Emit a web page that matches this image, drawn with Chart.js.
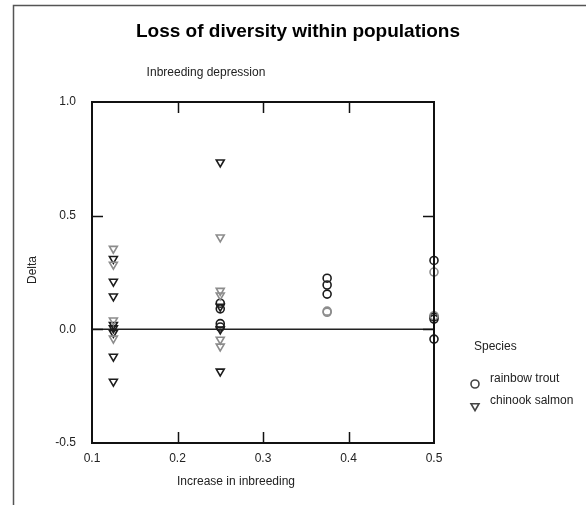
<!DOCTYPE html>
<html>
<head>
<meta charset="utf-8">
<script src="https://cdn.jsdelivr.net/npm/chart.js@4.4.1/dist/chart.umd.min.js"></script>
<style>
  html, body { margin: 0; padding: 0; background: #fff; }
  canvas { display: block; }
</style>
</head>
<body>
<canvas id="c" width="586" height="505"></canvas>
<script>
// Increase in inbreeding levels (x positions of each column of observations)
const increase = [0.125, 0.25, 0.375, 0.5];

// Delta values per inbreeding level; "Dark" and "Pale" are the two outline shades used per species
const chinookDark = [
  [0.31, 0.21, 0.145, 0.02, 0.005, -0.015, -0.12, -0.23],
  [0.735, 0.10, 0.0, -0.185],
  [],
  []
];
const chinookPale = [
  [0.355, 0.285, 0.04, -0.04],
  [0.405, 0.17, 0.15, -0.045, -0.075],
  [],
  []
];
const troutDark = [
  [],
  [0.115, 0.09, 0.025, 0.01],
  [0.225, 0.195, 0.155],
  [0.303, 0.055, 0.045, -0.043]
];
const troutPale = [
  [],
  [],
  [0.08, 0.075],
  [0.252, 0.06]
];

const xTicks = [0.1, 0.2, 0.3, 0.4, 0.5];
const yTicks = [-0.5, 0.0, 0.5, 1.0];
const speciesNames = ['rainbow trout', 'chinook salmon'];

const FONT = '"Liberation Sans", Arial, sans-serif';
const DARK = '#1c1c1c';
const PALE = '#8c8c8c';

function toPoints(groups) {
  const pts = [];
  groups.forEach((vals, i) => vals.forEach(v => pts.push({ x: increase[i], y: v })));
  return pts;
}

function series(label, groups, color, style) {
  const tri = style === 'triangle';
  return {
    label,
    data: toPoints(groups),
    pointStyle: style,
    pointRotation: tri ? 180 : 0,
    pointRadius: tri ? 4.6 : 4,
    pointHoverRadius: tri ? 4.6 : 4,
    pointBorderWidth: 1.6,
    borderColor: color,
    pointBorderColor: color,
    backgroundColor: 'rgba(0,0,0,0)',
    pointBackgroundColor: 'rgba(0,0,0,0)',
    showLine: false,
    clip: false
  };
}

// Frame, titles, box with inward ticks, zero line and species key
const decorations = {
  id: 'decorations',
  beforeDatasetsDraw(chart) {
    const { ctx, chartArea: a, scales: { x, y } } = chart;
    ctx.save();
    // zero reference line
    const y0 = y.getPixelForValue(0);
    ctx.strokeStyle = '#222';
    ctx.lineWidth = 1.5;
    ctx.beginPath();
    ctx.moveTo(a.left, y0);
    ctx.lineTo(a.right, y0);
    ctx.stroke();
    ctx.restore();
  },
  afterDraw(chart) {
    const { ctx, chartArea: a, scales: { x, y } } = chart;
    ctx.save();

    // outer frame (top and left edges)
    ctx.strokeStyle = '#555';
    ctx.lineWidth = 1.5;
    ctx.beginPath();
    ctx.moveTo(586, 5.5);
    ctx.lineTo(13.5, 5.5);
    ctx.lineTo(13.5, 505);
    ctx.stroke();

    // plot box
    ctx.strokeStyle = '#111';
    ctx.lineWidth = 2;
    ctx.strokeRect(a.left, a.top, a.right - a.left, a.bottom - a.top);

    // inward tick marks on all four sides
    ctx.lineWidth = 1.5;
    const tl = 11;
    ctx.beginPath();
    xTicks.forEach(v => {
      const px = Math.round(x.getPixelForValue(v)) + 0.5;
      if (px <= a.left + 1 || px >= a.right - 1) return;
      ctx.moveTo(px, a.bottom); ctx.lineTo(px, a.bottom - tl);
      ctx.moveTo(px, a.top); ctx.lineTo(px, a.top + tl);
    });
    yTicks.forEach(v => {
      const py = Math.round(y.getPixelForValue(v)) + 0.5;
      if (py <= a.top + 1 || py >= a.bottom - 1) return;
      ctx.moveTo(a.left, py); ctx.lineTo(a.left + tl, py);
      ctx.moveTo(a.right, py); ctx.lineTo(a.right - tl, py);
    });
    ctx.stroke();

    // titles
    ctx.fillStyle = '#000';
    ctx.textBaseline = 'middle';
    ctx.textAlign = 'center';
    ctx.font = 'bold 19px ' + FONT;
    ctx.fillText('Loss of diversity within populations', 298, 32);

    ctx.fillStyle = '#222';
    ctx.font = '12px ' + FONT;
    ctx.fillText('Inbreeding depression', 206, 73);

    ctx.font = '12px ' + FONT;
    ctx.fillText('Increase in inbreeding', 236, 482);

    ctx.save();
    ctx.translate(33, 270);
    ctx.rotate(-Math.PI / 2);
    ctx.fillText('Delta', 0, 0);
    ctx.restore();

    // species key
    ctx.textAlign = 'left';
    ctx.font = '12px ' + FONT;
    ctx.fillText('Species', 474, 347);

    ctx.strokeStyle = '#444';
    ctx.lineWidth = 1.6;
    ctx.beginPath();
    ctx.arc(475, 384, 4, 0, Math.PI * 2);
    ctx.stroke();
    ctx.fillText(speciesNames[0], 490, 379);

    const r = 4.6, cx = 475, cy = 406;
    ctx.beginPath();
    ctx.moveTo(cx, cy + r);
    ctx.lineTo(cx - r * Math.sin(Math.PI / 3), cy - r / 2);
    ctx.lineTo(cx + r * Math.sin(Math.PI / 3), cy - r / 2);
    ctx.closePath();
    ctx.stroke();
    ctx.fillText(speciesNames[1], 490, 401);

    ctx.restore();
  }
};

new Chart(document.getElementById('c'), {
  type: 'scatter',
  data: {
    datasets: [
      series(speciesNames[1], chinookPale, PALE, 'triangle'),
      series(speciesNames[0], troutPale, PALE, 'circle'),
      series(speciesNames[1], chinookDark, DARK, 'triangle'),
      series(speciesNames[0], troutDark, DARK, 'circle')
    ]
  },
  options: {
    responsive: false,
    animation: false,
    devicePixelRatio: 1,
    layout: { padding: { top: 102, left: 32, right: 152, bottom: 32 } },
    plugins: {
      legend: { display: false },
      title: { display: false },
      tooltip: { enabled: false }
    },
    scales: {
      x: {
        type: 'linear',
        min: 0.1,
        max: 0.5,
        afterBuildTicks: s => { s.ticks = xTicks.map(v => ({ value: v })); },
        afterFit: s => { s.height = 30; },
        grid: { display: false, drawTicks: false },
        border: { display: false },
        ticks: {
          padding: 8,
          color: '#222',
          font: { family: FONT, size: 12 },
          callback: v => Number(v).toFixed(1)
        }
      },
      y: {
        type: 'linear',
        min: -0.5,
        max: 1.0,
        afterBuildTicks: s => { s.ticks = yTicks.map(v => ({ value: v })); },
        afterFit: s => { s.width = 60; },
        grid: { display: false, drawTicks: false },
        border: { display: false },
        ticks: {
          padding: 16,
          color: '#222',
          font: { family: FONT, size: 12 },
          callback: v => Number(v).toFixed(1)
        }
      }
    }
  },
  plugins: [decorations]
});
</script>
</body>
</html>
